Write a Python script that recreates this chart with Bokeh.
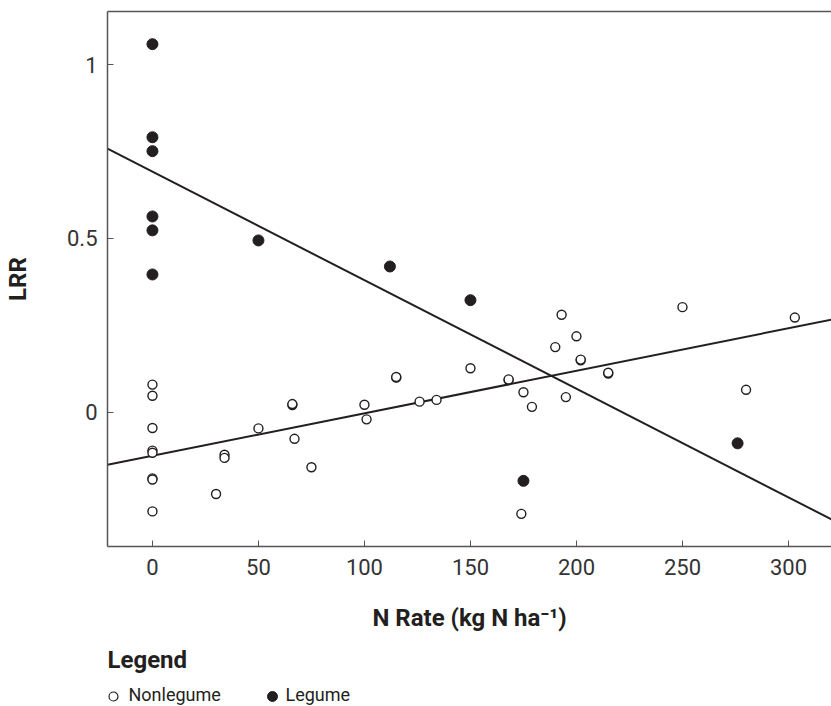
from bokeh.plotting import figure
from bokeh.models import Range1d, LinearAxis, FixedTicker
from bokeh.layouts import column
from bokeh.core.properties import value
from bokeh.embed import file_html
from bokeh.resources import INLINE

# ---- data ----
nonlegume_x = [0, 0, 0, 0, 0, 0, 0, 0,
               30, 34, 34, 50, 66, 66, 67, 75,
               100, 101, 115, 115, 126, 134, 150,
               168, 168, 174, 175, 179, 190, 193, 195, 200,
               202, 202, 215, 215, 250, 280, 303]
nonlegume_y = [0.079, 0.047, -0.046, -0.111, -0.117, -0.191, -0.194, -0.286,
               -0.236, -0.123, -0.132, -0.047, 0.020, 0.023, -0.077, -0.159,
               0.021, -0.021, 0.099, 0.101, 0.030, 0.035, 0.126,
               0.092, 0.094, -0.293, 0.057, 0.015, 0.187, 0.280, 0.043, 0.218,
               0.149, 0.151, 0.111, 0.113, 0.302, 0.064, 0.272]

legume_x = [0, 0, 0, 0, 0, 0, 50, 112, 150, 175, 276]
legume_y = [1.059, 0.791, 0.751, 0.563, 0.523, 0.396, 0.494, 0.419, 0.322, -0.198, -0.090]

# fitted lines: intercept, slope
legume_fit = [0.692, -0.003125]
nonlegume_fit = [-0.126, 0.001224]

x_ticks = [0, 50, 100, 150, 200, 250, 300]
y_ticks = [0, 0.5, 1]
y_tick_labels = {0: "0", 0.5: "0.5", 1: "1"}

x_title = "N Rate (kg N ha\u207b\u00b9)"
y_title = "LRR"
legend_title = "Legend"
legend_names = ["Nonlegume", "Legume"]

X0, X1 = -21.2, 320.3
Y0, Y1 = -0.387, 1.153

FONT = "Roboto"
INK = "#231f20"

# ---------------- main chart ----------------
p = figure(width=831, height=640, output_backend="svg", toolbar_location=None,
           x_range=Range1d(X0, X1), y_range=Range1d(Y0, Y1),
           min_border_left=107, min_border_right=0, min_border_top=11,
           min_border_bottom=94)
p.outline_line_color = None
p.xgrid.visible = False
p.ygrid.visible = False

for ax in (p.xaxis[0], p.yaxis[0]):
    ax.axis_line_color = "#555555"
    ax.axis_line_width = 1.5
    ax.major_tick_in = 6
    ax.major_tick_out = 0
    ax.minor_tick_line_color = None
    ax.major_tick_line_color = "#555555"
    ax.major_tick_line_width = 1
    ax.major_label_text_font = FONT
    ax.major_label_text_font_size = "22px"
    ax.major_label_text_color = "#333333"
    ax.axis_label_text_font = FONT
    ax.axis_label_text_font_size = "24px"
    ax.axis_label_text_font_style = "bold"
    ax.axis_label_text_color = INK

p.xaxis[0].ticker = FixedTicker(ticks=x_ticks)
p.yaxis[0].ticker = FixedTicker(ticks=y_ticks)
p.yaxis[0].major_label_overrides = y_tick_labels
p.xaxis[0].axis_label = x_title
p.yaxis[0].axis_label = y_title
p.xaxis[0].major_label_standoff = 12
p.yaxis[0].major_label_standoff = 10
p.xaxis[0].axis_label_standoff = 26
p.yaxis[0].axis_label_standoff = 32

top = LinearAxis(ticker=FixedTicker(ticks=[]), axis_line_color="#555555",
                 axis_line_width=1.5, major_tick_line_color=None,
                 minor_tick_line_color=None, major_label_text_font_size="0px")
p.add_layout(top, "above")

# regression lines
lx = [X0, X1]
p.line(lx, [legume_fit[0] + legume_fit[1] * v for v in lx], line_color=INK, line_width=2)
p.line(lx, [nonlegume_fit[0] + nonlegume_fit[1] * v for v in lx], line_color=INK, line_width=2)

# points
p.scatter(nonlegume_x, nonlegume_y, size=9, marker="circle", fill_color="white",
          line_color=INK, line_width=1.4)
p.scatter(legume_x, legume_y, size=11, marker="circle", fill_color=INK,
          line_color=INK, line_width=1)

# ---------------- legend strip (page-pixel coordinates) ----------------
# the column layout aligns this strip's frame with the chart frame (107..831)
lg = figure(width=831, height=66, output_backend="svg", toolbar_location=None,
            x_range=Range1d(107, 831), y_range=Range1d(66, 0),
            min_border=0, x_axis_type=None, y_axis_type=None)
lg.outline_line_color = None
lg.xgrid.visible = False
lg.ygrid.visible = False

lg.text(x=[107], y=[19], text=[legend_title], text_font=value(FONT),
        text_font_size="24px", text_font_style="bold", text_color=INK,
        text_baseline="middle", text_align="left")
lg.scatter(x=[113], y=[56], size=9, marker="circle", fill_color="white",
           line_color=INK, line_width=1.2)
lg.scatter(x=[272], y=[56], size=10, marker="circle", fill_color=INK,
           line_color=INK, line_width=1)
lg.text(x=[128, 285], y=[54, 54], text=legend_names, text_font=value(FONT),
        text_font_size="18px", text_color=INK,
        text_baseline="middle", text_align="left")

layout = column(p, lg, spacing=0)
open("out.html", "w").write(file_html(layout, INLINE))
